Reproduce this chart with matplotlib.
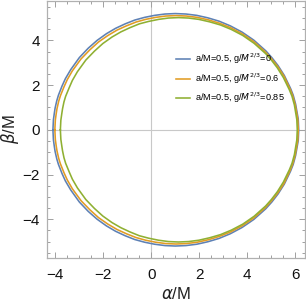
import numpy as np
import matplotlib
matplotlib.use("Agg")
import matplotlib.pyplot as plt
from matplotlib.ticker import MultipleLocator

# upper half of each shadow curve (alpha/M, beta/M);
# the lower half is the mirror image
blue_alpha = [-4.10, -4.08, -4.04, -4.01, -3.94, -3.87, -3.72, -3.58, -3.36, -3.00, -2.63, -2.26,
              -1.87, -1.49, -1.09, -0.69, -0.28, 0.14, 0.57, 1.00, 1.44, 1.89, 2.35, 2.82,
              3.29, 3.78, 4.27, 4.77, 5.02, 5.28, 5.54, 5.80, 5.91, 6.01, 6.12, 6.14]
blue_beta = [0.00, 0.45, 0.76, 0.97, 1.30, 1.55, 1.96, 2.29, 2.69, 3.23, 3.65, 4.00,
             4.30, 4.54, 4.74, 4.91, 5.03, 5.12, 5.18, 5.20, 5.18, 5.12, 5.01, 4.86,
             4.65, 4.37, 4.01, 3.53, 3.23, 2.87, 2.43, 1.85, 1.55, 1.15, 0.48, 0.00]

orange_alpha = [-4.02, -4.00, -3.96, -3.93, -3.86, -3.79, -3.64, -3.50, -3.29, -2.93, -2.56, -2.20,
                -1.81, -1.43, -1.04, -0.64, -0.24, 0.18, 0.60, 1.03, 1.46, 1.91, 2.37, 2.83,
                3.30, 3.79, 4.27, 4.76, 5.01, 5.27, 5.53, 5.78, 5.89, 5.99, 6.10, 6.12]
orange_beta = [0.00, 0.44, 0.75, 0.95, 1.28, 1.52, 1.92, 2.25, 2.64, 3.17, 3.58, 3.93,
               4.22, 4.46, 4.65, 4.82, 4.94, 5.03, 5.09, 5.11, 5.09, 5.03, 4.92, 4.77,
               4.57, 4.29, 3.94, 3.47, 3.17, 2.82, 2.39, 1.82, 1.52, 1.13, 0.47, 0.00]

green_alpha = [-3.79, -3.77, -3.73, -3.70, -3.64, -3.57, -3.42, -3.29, -3.08, -2.73, -2.37, -2.02,
               -1.64, -1.27, -0.89, -0.50, -0.11, 0.30, 0.71, 1.13, 1.55, 1.98, 2.43, 2.88,
               3.33, 3.81, 4.28, 4.76, 5.00, 5.25, 5.50, 5.75, 5.86, 5.96, 6.06, 6.08]
green_beta = [0.00, 0.43, 0.73, 0.94, 1.25, 1.50, 1.89, 2.21, 2.60, 3.12, 3.52, 3.86,
              4.15, 4.38, 4.57, 4.74, 4.85, 4.94, 5.00, 5.02, 5.00, 4.94, 4.83, 4.69,
              4.49, 4.22, 3.87, 3.41, 3.12, 2.77, 2.34, 1.79, 1.50, 1.11, 0.46, 0.00]

labels = [r'a/M=0.5, g/$M^{2/3}$=0', r'a/M=0.5, g/$M^{2/3}$=0.6', r'a/M=0.5, g/$M^{2/3}$=0.85']
colors = ['#5E81B5', '#E19C24', '#8FB032']

plt.rcParams['font.family'] = ['Liberation Sans', 'DejaVu Sans']
plt.rcParams['mathtext.fontset'] = 'dejavusans'


def closed(a, b):
    a = np.asarray(a)
    b = np.asarray(b)
    return np.concatenate([a, a[::-1][1:]]), np.concatenate([b, -b[::-1][1:]])


fig = plt.figure(figsize=(3.06, 3.04), dpi=100)
ax = fig.add_axes([0.1526, 0.151, 0.844, 0.847])

ax.axhline(0, color='#c8c8c8', lw=0.8, zorder=1)
ax.axvline(0, color='#c8c8c8', lw=0.8, zorder=1)

curves = [(blue_alpha, blue_beta), (orange_alpha, orange_beta), (green_alpha, green_beta)]
for (a, b), lab, c in zip(curves, labels, colors):
    x, y = closed(a, b)
    ax.plot(x, y, color=c, lw=1.15, label=lab, zorder=2, solid_joinstyle='round')

ax.set_xlim(-4.36, 6.40)
ax.set_ylim(-5.74, 5.78)
ax.xaxis.set_major_locator(MultipleLocator(2))
ax.xaxis.set_minor_locator(MultipleLocator(0.5))
ax.yaxis.set_major_locator(MultipleLocator(2))
ax.yaxis.set_minor_locator(MultipleLocator(0.5))
ax.tick_params(which='both', direction='in', top=True, right=True, color='#a0a0a0',
               labelsize=11, labelcolor='#111111', width=0.7)
ax.tick_params(which='major', length=4)
ax.tick_params(axis='x', which='major', pad=7)
ax.tick_params(axis='y', which='major', pad=5)
ax.tick_params(which='minor', length=2.2)
for s in ax.spines.values():
    s.set_color('#b0b0b0')
    s.set_linewidth(0.9)

ax.set_xlabel(r'$\alpha$/M', fontsize=12, color='#222222', labelpad=3)
ax.set_ylabel(r'$\beta$/M', fontsize=12, color='#222222', labelpad=1)

ax.legend(loc='center left', bbox_to_anchor=(0.50, 0.697), frameon=False, fontsize=6.6,
          handlelength=1.6, handletextpad=0.5, labelspacing=0.55, borderpad=0, borderaxespad=0)

fig.savefig('out.png', dpi=100)
